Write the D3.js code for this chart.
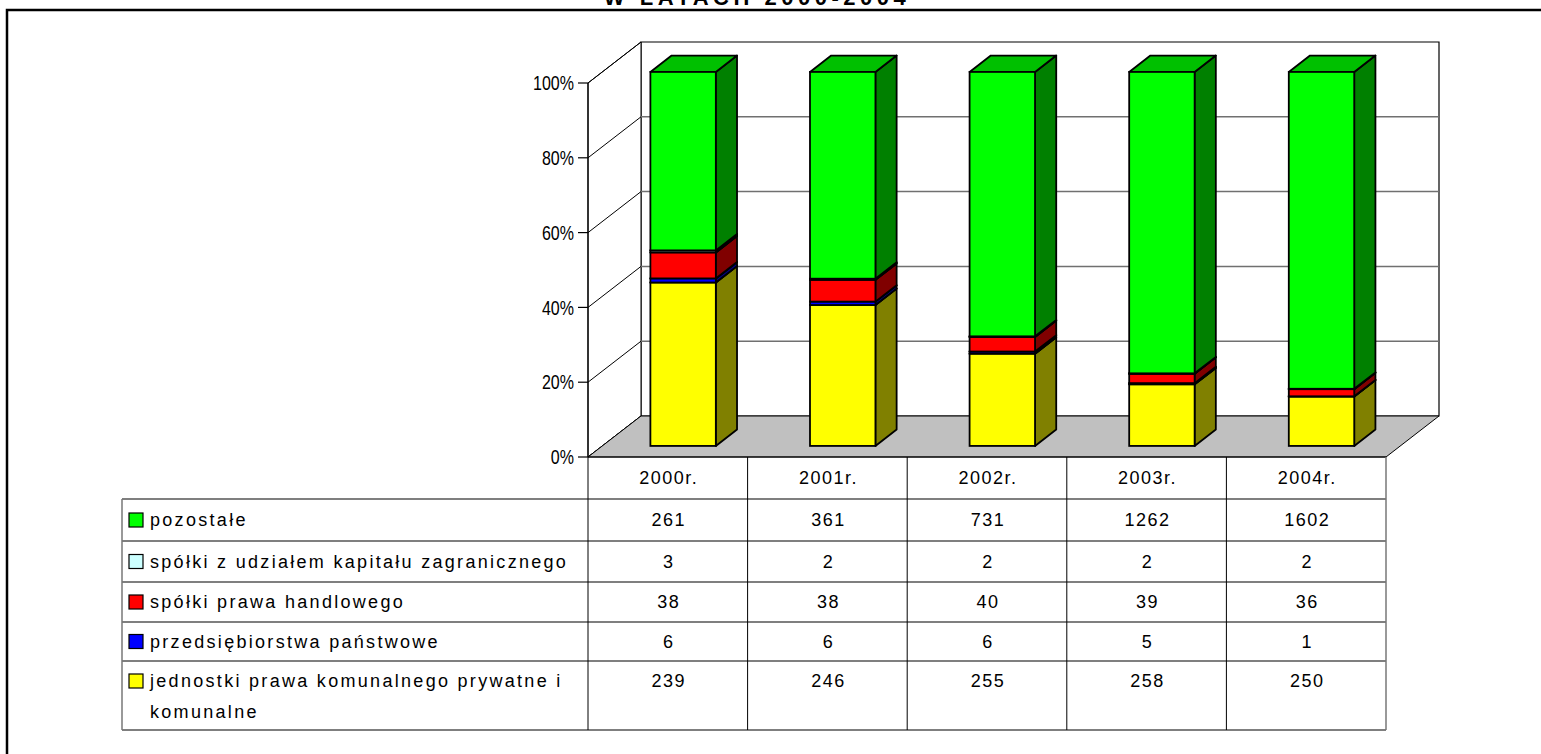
<!DOCTYPE html>
<html>
<head>
<meta charset="utf-8">
<script src="https://cdn.jsdelivr.net/npm/d3@7"></script>
<style>
  body { margin: 0; background: #fff; }
  svg { display: block; font-family: Arial, "Liberation Sans", sans-serif; }
</style>
</head>
<body>
<div id="chart"></div>
<script>
// data
const years = ["2000r.", "2001r.", "2002r.", "2003r.", "2004r."];
const seriesNames = [
  "jednostki prawa komunalnego prywatne i komunalne",
  "przedsiębiorstwa państwowe",
  "spółki prawa handlowego",
  "spółki z udziałem kapitału zagranicznego",
  "pozostałe"
];
const jednostki = [239, 246, 255, 258, 250];
const przedsiebiorstwa = [6, 6, 6, 5, 1];
const spolkiHandlowe = [38, 38, 40, 39, 36];
const spolkiZagraniczne = [3, 2, 2, 2, 2];
const pozostale = [261, 361, 731, 1262, 1602];
const yTicks = [0, 0.2, 0.4, 0.6, 0.8, 1];

const seriesValues = [jednostki, przedsiebiorstwa, spolkiHandlowe, spolkiZagraniczne, pozostale];
const frontColors = ["#ffff00", "#0000ff", "#ff0000", "#ccffff", "#00ff00"];
const sideColors = ["#808000", "#000080", "#800000", "#669999", "#008000"];
const topColors = ["#c0c000", "#0000c0", "#c00000", "#99cccc", "#00c000"];

// table rows top to bottom (reverse of stacking order)
const tableOrder = [4, 3, 2, 1, 0];

const W = 1541, H = 754;
const svg = d3.select("#chart").append("svg").attr("width", W).attr("height", H);

// outer frame (top and left edges visible)
svg.append("path").attr("d", "M7,754 L7,10 L1541,10")
  .attr("fill", "none").attr("stroke", "#000").attr("stroke-width", 2.5);

// title, mostly cut off at top as in the source
svg.append("text").attr("x", 757).attr("y", 5).attr("text-anchor", "middle")
  .attr("font-size", 22).attr("font-weight", "bold").attr("letter-spacing", 4.5)
  .text("W LATACH 2000-2004");

// scales
const x = d3.scaleBand().domain(years).range([588, 1386]);
const y = d3.scaleLinear().domain([0, 1]).range([457, 83]);
const DX = 53, DY = -41;
const proj = (px, py, d) => [px + d * DX, py + d * DY];
const pts = arr => arr.map(p => p.join(",")).join(" ");

// back wall
const g = svg.append("g");
g.append("polygon")
  .attr("points", pts([proj(588, y(0), 1), proj(1386, y(0), 1), proj(1386, y(1), 1), proj(588, y(1), 1)]))
  .attr("fill", "#fff").attr("stroke", "#000").attr("stroke-width", 1.2);
// left wall
g.append("polygon")
  .attr("points", pts([[588, y(0)], proj(588, y(0), 1), proj(588, y(1), 1), [588, y(1)]]))
  .attr("fill", "#fff").attr("stroke", "#000").attr("stroke-width", 1);

// gridlines
yTicks.forEach(t => {
  const a = proj(588, y(t), 1), b = proj(1386, y(t), 1);
  if (t > 0 && t < 1) {
    g.append("line").attr("x1", a[0]).attr("y1", a[1]).attr("x2", b[0]).attr("y2", b[1])
      .attr("stroke", "#707070").attr("stroke-width", 1.5);
  }
  g.append("line").attr("x1", 588).attr("y1", y(t)).attr("x2", a[0]).attr("y2", a[1])
    .attr("stroke", "#000").attr("stroke-width", 1);
});

// floor
g.append("polygon")
  .attr("points", pts([[588, y(0)], [1386, y(0)], proj(1386, y(0), 1), proj(588, y(0), 1)]))
  .attr("fill", "#c0c0c0").attr("stroke", "#000").attr("stroke-width", 1);

// y axis
g.append("line").attr("x1", 588).attr("y1", y(1)).attr("x2", 588).attr("y2", y(0))
  .attr("stroke", "#000").attr("stroke-width", 1.2);
const axis = g.selectAll(".tick").data(yTicks).enter().append("g");
axis.append("line").attr("x1", 578).attr("x2", 588)
  .attr("y1", d => y(d)).attr("y2", d => y(d)).attr("stroke", "#000").attr("stroke-width", 1.2);
axis.append("text")
  .attr("transform", d => "translate(574," + y(d) + ") scale(0.8,1)")
  .attr("dy", "0.36em")
  .attr("text-anchor", "end").attr("font-size", 20)
  .text(d => d3.format(".0%")(d));

// stacked bars (percent)
const stackData = years.map((yr, i) => {
  const row = { year: yr };
  seriesValues.forEach((s, k) => row[k] = s[i]);
  return row;
});
const stack = d3.stack().keys(d3.range(seriesValues.length)).offset(d3.stackOffsetExpand);
const layers = stack(stackData);

const D0 = 0.27, D1 = 0.67;
const bw = x.bandwidth() * 0.41;
const bars = svg.append("g");
years.forEach((yr, i) => {
  const x0 = x(yr) + (x.bandwidth() - bw) / 2 + 1 + D0 * DX;
  const x1 = x0 + bw;
  const dd = D1 - D0;
  const off = (py) => py + D0 * DY;
  layers.forEach((layer, k) => {
    const seg = layer[i];
    const yb = off(y(seg[0])), yt = off(y(seg[1]));
    // side face
    bars.append("polygon")
      .attr("points", pts([[x1, yb], [x1, yt], [x1 + dd * DX, yt + dd * DY], [x1 + dd * DX, yb + dd * DY]]))
      .attr("fill", sideColors[k]).attr("stroke", "#000").attr("stroke-width", 1.8)
      .attr("stroke-linejoin", "round");
    // top face
    bars.append("polygon")
      .attr("points", pts([[x0, yt], [x1, yt], [x1 + dd * DX, yt + dd * DY], [x0 + dd * DX, yt + dd * DY]]))
      .attr("fill", topColors[k]).attr("stroke", "#000").attr("stroke-width", 1.8)
      .attr("stroke-linejoin", "round");
    // front face
    bars.append("rect").attr("x", x0).attr("y", yt).attr("width", bw).attr("height", yb - yt)
      .attr("fill", frontColors[k]).attr("stroke", "#000").attr("stroke-width", 1.8);
  });
});

// data table
const rowTops = [457, 499, 541, 582, 622, 661, 730];
const tableLeft = 122, tableRight = 1386;
const tbl = svg.append("g");
rowTops.forEach((ry, i) => {
  tbl.append("line").attr("x1", i === 0 ? 588 : tableLeft).attr("x2", tableRight)
    .attr("y1", ry).attr("y2", ry).attr("stroke", "#000").attr("stroke-width", 1.2);
});
tbl.append("line").attr("x1", tableLeft).attr("x2", tableLeft).attr("y1", 499).attr("y2", 730)
  .attr("stroke", "#777").attr("stroke-width", 1.5);
years.forEach(yr => {
  tbl.append("line").attr("x1", x(yr)).attr("x2", x(yr)).attr("y1", 457).attr("y2", 730)
    .attr("stroke", "#000").attr("stroke-width", 1);
});
tbl.append("line").attr("x1", tableRight).attr("x2", tableRight).attr("y1", 457).attr("y2", 730)
  .attr("stroke", "#777").attr("stroke-width", 1.5);

// header years
tbl.selectAll(".yr").data(years).enter().append("text")
  .attr("x", d => x(d) + x.bandwidth() / 2 + 1).attr("y", 478).attr("dy", "0.36em")
  .attr("text-anchor", "middle").attr("font-size", 18).attr("letter-spacing", 1.5).text(d => d);

// rows
tableOrder.forEach((k, r) => {
  const top = rowTops[r + 1], bottom = rowTops[r + 2];
  const last = r === tableOrder.length - 1;
  const cy = last ? top + 20 : (top + bottom) / 2;
  tbl.append("rect").attr("x", 129).attr("y", cy - 7).attr("width", 14).attr("height", 14)
    .attr("fill", frontColors[k]).attr("stroke", "#000").attr("stroke-width", 1.2);
  const label = tbl.append("text").attr("x", 150).attr("y", cy).attr("dy", "0.36em")
    .attr("font-size", 18).attr("letter-spacing", 2.3);
  if (last) {
    label.append("tspan").text("jednostki prawa komunalnego prywatne i");
    label.append("tspan").attr("x", 150).attr("dy", 31).text("komunalne");
  } else {
    label.text(seriesNames[k]);
  }
  years.forEach((yr, i) => {
    tbl.append("text").attr("x", x(yr) + x.bandwidth() / 2 + 1).attr("y", cy).attr("dy", "0.36em")
      .attr("text-anchor", "middle").attr("font-size", 18).attr("letter-spacing", 1.5)
      .text(seriesValues[k][i]);
  });
});
</script>
</body>
</html>
